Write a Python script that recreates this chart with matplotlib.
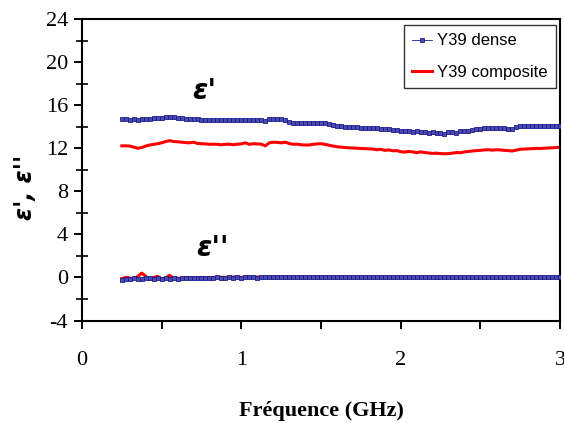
import numpy as np
import matplotlib
matplotlib.use("Agg")
import matplotlib.pyplot as plt
from matplotlib.ticker import MultipleLocator, FixedLocator

plt.rcParams["axes.unicode_minus"] = False

# Frequency sweep (GHz)
freq = np.round(np.linspace(0.25, 3.0, 111), 4)

dense_eps1 = [
    14.68, 14.70, 14.66, 14.70, 14.64, 14.72, 14.74, 14.72, 14.76, 14.80, 14.84,
    14.90, 14.88, 14.86, 14.84, 14.76, 14.70, 14.68, 14.70, 14.68, 14.66,
    14.62, 14.60, 14.62, 14.60, 14.60, 14.64, 14.66, 14.62, 14.60, 14.62,
    14.64, 14.60, 14.58, 14.60, 14.64, 14.56, 14.70, 14.72, 14.68, 14.70,
    14.62, 14.42, 14.38, 14.38, 14.36, 14.36, 14.34, 14.34, 14.32, 14.30,
    14.30, 14.22, 14.12, 14.06, 14.02, 14.00, 13.98, 14.00, 13.96, 13.92,
    13.92, 13.88, 13.90, 13.86, 13.82, 13.80, 13.78, 13.70, 13.72, 13.64,
    13.58, 13.64, 13.50, 13.56, 13.50, 13.52, 13.44, 13.46, 13.40, 13.38,
    13.36, 13.50, 13.48, 13.42, 13.56, 13.62, 13.64, 13.70, 13.78, 13.80,
    13.86, 13.86, 13.88, 13.86, 13.86, 13.84, 13.82, 13.78, 14.00, 14.04,
    14.04, 14.02, 14.02, 14.04, 14.04, 14.02, 14.02, 14.04, 14.04, 14.06,
]

comp_eps1 = [
    12.22, 12.22, 12.20, 12.10, 12.00, 12.06, 12.20, 12.30, 12.36, 12.42, 12.50,
    12.62, 12.70, 12.62, 12.60, 12.56, 12.52, 12.50, 12.56, 12.44, 12.42,
    12.40, 12.36, 12.38, 12.36, 12.32, 12.36, 12.38, 12.32, 12.38, 12.40,
    12.50, 12.36, 12.42, 12.40, 12.38, 12.22, 12.50, 12.56, 12.54, 12.50,
    12.56, 12.44, 12.36, 12.38, 12.32, 12.30, 12.30, 12.36, 12.40, 12.42,
    12.36, 12.28, 12.20, 12.14, 12.10, 12.06, 12.04, 12.02, 12.00, 11.98,
    11.96, 11.94, 11.92, 11.86, 11.90, 11.80, 11.84, 11.76, 11.78, 11.68,
    11.64, 11.70, 11.66, 11.58, 11.66, 11.60, 11.56, 11.52, 11.54, 11.50,
    11.48, 11.50, 11.54, 11.60, 11.58, 11.66, 11.70, 11.74, 11.78, 11.80,
    11.84, 11.86, 11.82, 11.86, 11.84, 11.80, 11.78, 11.74, 11.82, 11.90,
    11.92, 11.94, 11.96, 11.98, 11.98, 12.00, 12.02, 12.04, 12.06, 12.10,
]

dense_eps2 = [
    -0.20, -0.10, -0.15, -0.05, -0.10, -0.12, -0.08, -0.05, -0.10, -0.06, -0.12,
    -0.04, -0.10, -0.08, -0.12, -0.06, -0.08, -0.04, -0.06, -0.04, -0.08,
    -0.04, -0.02, -0.04, 0.00, -0.02, -0.04, 0.00, -0.02, 0.00, -0.02,
    0.00, 0.02, 0.00, -0.02, 0.02, 0.00, 0.02, 0.00, 0.02, 0.04,
    0.02, 0.04, 0.02, 0.04, 0.02, 0.04, 0.06, 0.04, 0.02, 0.04,
    0.04, 0.06, 0.04, 0.02, 0.04, 0.06, 0.04, 0.04, 0.02, 0.04,
    0.04, 0.06, 0.04, 0.04, 0.02, 0.04, 0.04, 0.02, 0.04, 0.04,
    0.02, 0.04, 0.04, 0.02, 0.04, 0.02, 0.04, 0.02, 0.02, 0.04,
    0.02, 0.02, 0.04, 0.02, 0.02, 0.04, 0.02, 0.02, 0.02, 0.04,
    0.02, 0.02, 0.02, 0.04, 0.02, 0.02, 0.02, 0.02, 0.04, 0.02,
    0.02, 0.02, 0.02, 0.02, 0.04, 0.02, 0.02, 0.02, 0.02, 0.02,
]

comp_eps2 = [
    -0.10, 0.00, -0.05, -0.15, 0.10, 0.40, 0.10, -0.20, 0.00, 0.10, -0.15,
    -0.05, 0.20, -0.10, -0.05, -0.15, 0.00, -0.05, -0.10, -0.05, 0.00,
    -0.05, 0.00, -0.02, 0.00, 0.02, 0.00, 0.02, 0.04, 0.02, 0.00,
    0.02, 0.00, 0.02, 0.04, 0.02, 0.00, 0.02, 0.04, 0.02, 0.02,
    0.04, 0.02, 0.00, 0.02, 0.04, 0.02, 0.00, 0.02, 0.02, 0.04,
    0.02, 0.00, 0.02, 0.04, 0.02, 0.00, 0.02, 0.00, 0.02, 0.00,
    0.02, 0.00, -0.02, 0.00, 0.02, 0.00, 0.00, 0.02, 0.00, 0.00,
    0.02, 0.00, 0.00, -0.02, 0.00, 0.00, 0.02, 0.00, 0.00, 0.00,
    0.00, 0.02, 0.00, 0.00, 0.00, 0.02, 0.00, 0.00, 0.00, 0.00,
    0.00, 0.00, 0.02, 0.00, 0.00, 0.00, 0.00, 0.02, 0.00, 0.00,
    0.00, 0.00, 0.00, 0.02, 0.00, 0.00, 0.00, 0.00, 0.00, 0.00,
]

series_labels = ["Y39 dense", "Y39 composite"]
xtick_vals = [0, 1, 2, 3]
ytick_vals = [-4, 0, 4, 8, 12, 16, 20, 24]

navy = "#1c1c8e"
red = "#ff0000"

fig = plt.figure(figsize=(5.64, 4.23), dpi=100)
ax = fig.add_axes([82 / 564, 1 - 320.5 / 423, 478 / 564, 301.5 / 423])

# composite (drawn under)
lc, = ax.plot(freq, comp_eps1, color=red, lw=2.2, zorder=2)
ax.plot(freq, comp_eps2, color=red, lw=2.2, zorder=2)
# dense
mk = dict(color=navy, lw=0.6, marker="s", ms=2.3, mfc="#4a4ab0", mec=navy,
          mew=0.6, zorder=3)
ld, = ax.plot(freq, dense_eps1, **mk)
ax.plot(freq, dense_eps2, **mk)

ax.set_xlim(0, 3)
ax.set_ylim(-4, 24)

ax.xaxis.set_major_locator(FixedLocator(xtick_vals))
ax.xaxis.set_minor_locator(MultipleLocator(0.5))
ax.yaxis.set_major_locator(FixedLocator(ytick_vals))
ax.yaxis.set_minor_locator(MultipleLocator(2))

for s in ax.spines.values():
    s.set_linewidth(1.5)
    s.set_color("black")

ax.tick_params(axis="y", which="major", direction="out", length=6, width=1.4,
               pad=4, labelsize=16)
ax.tick_params(axis="y", which="minor", direction="inout", length=8, width=1.2)
ax.tick_params(axis="x", which="both", direction="out", length=6, width=1.4)
ax.tick_params(axis="x", which="major", pad=16, labelsize=16)
for lab in ax.get_xticklabels() + ax.get_yticklabels():
    lab.set_fontfamily("Liberation Serif")

ax.set_xlabel("Fréquence (GHz)", fontfamily="Liberation Serif",
              fontweight="bold", fontsize=16, labelpad=22)
ax.set_ylabel("ε', ε''", fontfamily="DejaVu Sans", fontweight="bold",
              fontstyle="italic", fontsize=17)
ax.yaxis.set_label_coords(-0.095, 0.44)

ax.text(0.77, 17.3, "ε'", fontfamily="DejaVu Sans", fontstyle="italic",
        fontweight="bold", fontsize=20, ha="center", va="center")
ax.text(0.82, 2.7, "ε''", fontfamily="DejaVu Sans", fontstyle="italic",
        fontweight="bold", fontsize=20, ha="center", va="center")

leg = ax.legend([ld, lc], series_labels, loc="upper right",
                bbox_to_anchor=(0.992, 0.98), frameon=True, fancybox=False,
                edgecolor="black", handlelength=1.2, handletextpad=0.3,
                labelspacing=1.0, borderpad=0.5, borderaxespad=0,
                prop={"family": "Liberation Sans", "size": 12})
leg.get_frame().set_linewidth(1.0)

fig.savefig("out.png", dpi=100)
